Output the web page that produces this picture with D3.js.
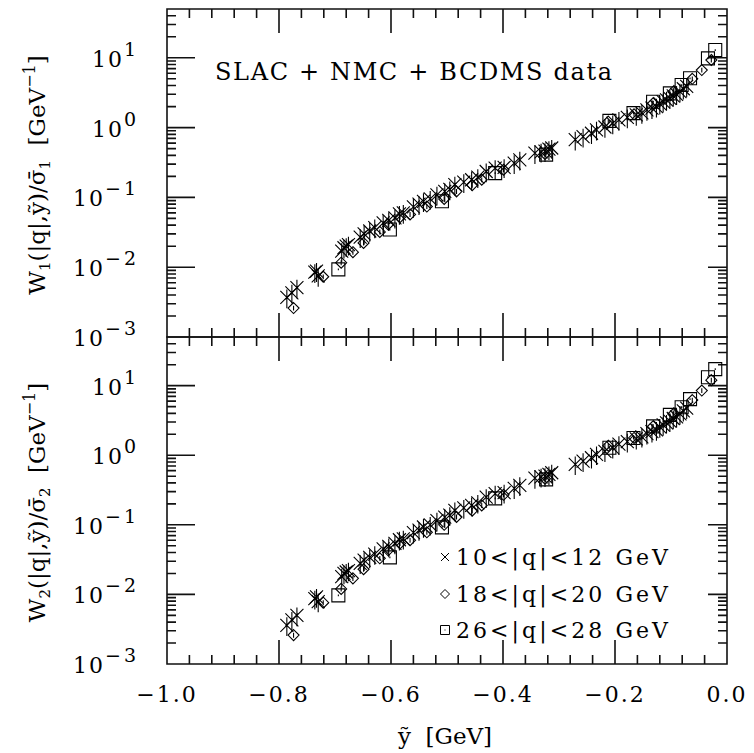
<!DOCTYPE html>
<html><head><meta charset="utf-8">
<script src="https://cdn.jsdelivr.net/npm/d3@7"></script>
<style>
body{margin:0;background:#fff}
text{font-family:"DejaVu Serif",serif;fill:#000}
</style>
</head><body>
<svg id="chart" width="754" height="753"></svg>
<script>
// ---------------- data (ỹ [GeV], value) ----------------
// Top panel: W1/σ̄1
const w1_q10 = [
 [-0.786,0.0037],[-0.777,0.0043],[-0.768,0.0051],
 [-0.736,0.0085],[-0.733,0.0088],[-0.730,0.0075],
 [-0.688,0.017],[-0.684,0.019],[-0.680,0.020],[-0.676,0.021],
 [-0.655,0.027],[-0.648,0.030],[-0.638,0.033],[-0.629,0.037],[-0.614,0.043],[-0.604,0.047],[-0.593,0.051],[-0.585,0.058],[-0.578,0.060],
 [-0.560,0.073],[-0.550,0.080],[-0.542,0.088],[-0.530,0.095],[-0.518,0.109],[-0.504,0.122],[-0.495,0.130],[-0.486,0.152],[-0.470,0.165],[-0.456,0.179],[-0.445,0.195],[-0.430,0.235],[-0.414,0.263],[-0.398,0.270],[-0.380,0.310],[-0.370,0.346],
 [-0.343,0.43],[-0.332,0.45],[-0.325,0.46],[-0.318,0.49],[-0.313,0.51],
 [-0.271,0.67],[-0.257,0.74],[-0.242,0.83],[-0.233,0.93],[-0.218,1.02],[-0.204,1.15],[-0.193,1.29],[-0.178,1.40],[-0.162,1.52],[-0.152,1.62],[-0.143,1.79],[-0.134,1.90],[-0.126,2.0],[-0.120,2.2],[-0.114,2.35],[-0.108,2.5],[-0.102,2.63],[-0.096,2.85],[-0.090,3.0],[-0.084,3.27],[-0.078,3.6],[-0.072,3.9]
];
const w1_q18 = [
 [-0.774,0.0026],[-0.721,0.0073],[-0.689,0.0116],[-0.668,0.0164],[-0.649,0.0223],[-0.620,0.032],[-0.605,0.041],[-0.584,0.052],[-0.566,0.057],[-0.536,0.074],[-0.505,0.095],[-0.483,0.122],[-0.455,0.150],[-0.438,0.179],[-0.399,0.249],[-0.325,0.42],[-0.212,1.22],[-0.166,1.55],[-0.132,2.23],[-0.096,3.27],[-0.062,5.0],[-0.045,6.67],[-0.028,9.3]
];
const w1_q26 = [
 [-0.694,0.0093],[-0.602,0.0346],[-0.509,0.088],[-0.414,0.223],[-0.323,0.41],[-0.210,1.25],[-0.167,1.61],[-0.132,2.35],[-0.102,3.09],[-0.081,4.07],[-0.066,5.08],[-0.034,9.8],[-0.021,12.9]
];
// Bottom panel: W2/σ̄2
const w2_q10 = [
 [-0.786,0.0036],[-0.777,0.0043],[-0.768,0.0050],
 [-0.736,0.0087],[-0.733,0.0092],[-0.730,0.0079],
 [-0.688,0.018],[-0.684,0.020],[-0.680,0.021],[-0.676,0.022],
 [-0.655,0.028],[-0.648,0.031],[-0.638,0.034],[-0.629,0.038],[-0.614,0.045],[-0.604,0.049],[-0.593,0.054],[-0.585,0.061],[-0.578,0.063],
 [-0.560,0.077],[-0.550,0.084],[-0.542,0.093],[-0.530,0.100],[-0.518,0.115],[-0.504,0.129],[-0.495,0.138],[-0.486,0.161],[-0.470,0.175],[-0.456,0.190],[-0.445,0.207],[-0.430,0.25],[-0.414,0.28],[-0.398,0.29],[-0.380,0.335],[-0.370,0.37],
 [-0.343,0.47],[-0.332,0.49],[-0.325,0.50],[-0.318,0.53],[-0.313,0.56],
 [-0.271,0.74],[-0.257,0.82],[-0.242,0.92],[-0.233,1.03],[-0.218,1.14],[-0.204,1.28],[-0.193,1.44],[-0.178,1.57],[-0.162,1.72],[-0.152,1.84],[-0.143,2.04],[-0.134,2.18],[-0.126,2.31],[-0.120,2.55],[-0.114,2.73],[-0.108,2.92],[-0.102,3.09],[-0.096,3.37],[-0.090,3.57],[-0.084,3.92],[-0.078,4.35],[-0.072,4.74]
];
const w2_q18 = [
 [-0.774,0.0026],[-0.721,0.0076],[-0.689,0.012],[-0.668,0.017],[-0.649,0.023],[-0.620,0.033],[-0.605,0.043],[-0.584,0.054],[-0.566,0.060],[-0.536,0.078],[-0.505,0.10],[-0.483,0.13],[-0.455,0.16],[-0.438,0.19],[-0.399,0.27],[-0.325,0.46],[-0.212,1.37],[-0.166,1.77],[-0.132,2.6],[-0.096,3.9],[-0.062,6.2],[-0.045,8.5],[-0.028,12.0]
];
const w2_q26 = [
 [-0.694,0.0097],[-0.602,0.034],[-0.509,0.092],[-0.414,0.24],[-0.323,0.45],[-0.210,1.28],[-0.167,1.77],[-0.132,2.6],[-0.102,3.8],[-0.081,4.9],[-0.066,6.4],[-0.034,13.2],[-0.021,17.3]
];
const seriesLabels = ["10<|q|<12 GeV","18<|q|<20 GeV","26<|q|<28 GeV"];
const seriesRelErr = [0.3, 0.08, 0.03];
const xTickValues = [-1.0,-0.8,-0.6,-0.4,-0.2,0.0];
const yDecades = [-3,-2,-1,0,1];
const panelText = "SLAC + NMC + BCDMS data";

// ---------------- layout ----------------
const L=167, R=727;
const panels = [
  {top:9,   bottom:337, data:[w1_q10,w1_q18,w1_q26], idx:"1"},
  {top:337, bottom:664, data:[w2_q10,w2_q18,w2_q26], idx:"2"}
];
const svg = d3.select("#chart");
const x = d3.scaleLinear().domain([-1,0]).range([L,R]);
const xMinor = [];
for (let i = 0; i <= 25; i++) {
  const v = Math.round((-1 + i*0.04)*100)/100;
  if (!xTickValues.some(t => Math.abs(t-v) < 1e-6)) xMinor.push(v);
}

function marker(type, s){
  if(type===0) return `M${-s},${-s}L${s},${s}M${-s},${s}L${s},${-s}`;
  if(type===1) return `M0,${-s}L${s},0L0,${s}L${-s},0Z`;
  return `M${-s},${-s}H${s}V${s}H${-s}Z`;
}
const markerSize = [6.5, 5.5, 6.5];
const f = v => v.toFixed(2);

panels.forEach((p,pi) => {
  const y = d3.scaleLog().domain([1e-3,50]).range([p.bottom,p.top]);
  const g = svg.append("g");
  const majY = yDecades.map(k => Math.pow(10,k));
  const minY = [];
  yDecades.forEach(k => { for (let m = 2; m <= 9; m++) { const v = m*Math.pow(10,k); if (v <= 50) minY.push(v); } });

  // frame + all ticks in one path
  let d = `M${L},${p.top}H${R}V${p.bottom}H${L}Z`;
  majY.forEach(v => { const yy = f(y(v)); d += `M${L},${yy}H${L+28}M${R},${yy}H${R-19}`; });
  minY.forEach(v => { const yy = f(y(v)); d += `M${L},${yy}H${L+9}M${R},${yy}H${R-9}`; });
  xTickValues.forEach(v => { const xx = f(x(v)); d += `M${xx},${p.bottom}V${p.bottom-24}M${xx},${p.top}V${p.top+24}`; });
  xMinor.forEach(v => { const xx = f(x(v)); d += `M${xx},${p.bottom}V${p.bottom-9}M${xx},${p.top}V${p.top+9}`; });
  g.append("path").attr("d", d).attr("fill","none").attr("stroke","#111").attr("stroke-width",1.6);

  // y labels
  yDecades.forEach(k => {
    const t = g.append("text").attr("x",139).attr("y",y(Math.pow(10,k))+9).attr("text-anchor","end");
    t.append("tspan").attr("font-size",22).attr("letter-spacing",2).text("10");
    t.append("tspan").attr("font-size",19).attr("dy",-11).attr("letter-spacing",3).text(k<0?"\u2212"+(-k):String(k));
  });

  // y title
  const cy = (p.top+p.bottom)/2 + 2;
  const tt = g.append("text").attr("transform",`translate(45,${cy}) rotate(-90)`).attr("text-anchor","middle").attr("font-size",23);
  tt.append("tspan").text("W");
  tt.append("tspan").attr("font-size",15).attr("dy",5).text(p.idx);
  tt.append("tspan").attr("dy",-5).text("(|q|,\u1EF9)/\u03C3\u0304");
  tt.append("tspan").attr("font-size",15).attr("dy",5).text(p.idx);
  tt.append("tspan").attr("dy",-5).text("\u00A0\u00A0[GeV");
  tt.append("tspan").attr("font-size",16).attr("dy",-10).text("\u2212" + "1");
  tt.append("tspan").attr("dy",10).text("]");

  // data: marker + vertical error bar in one path
  p.data.forEach((ser, si) => {
    const e = seriesRelErr[si];
    g.append("g").attr("fill","none").attr("stroke","#000").attr("stroke-width",1.1)
      .selectAll("path").data(ser).join("path")
      .attr("transform",dd=>`translate(${f(x(dd[0]))},${f(y(dd[1]))})`)
      .attr("d",dd => marker(si,markerSize[si]) + `M0,${f(y(dd[1]*(1+e))-y(dd[1]))}V${f(y(dd[1]*(1-e))-y(dd[1]))}`);
  });

  if(pi===0){
    g.append("text").attr("x",215).attr("y",80).attr("font-size",24)
      .attr("textLength",397).attr("lengthAdjust","spacing").text(panelText);
  } else {
    const legY = [557,594,630];
    const legSize = [4,4.5,4.5];
    seriesLabels.forEach((lab,i) => {
      g.append("path").attr("transform",`translate(445,${legY[i]})`)
        .attr("d",marker(i,legSize[i]) + (i===2 ? "M-0.5,0H0.5" : ""))
        .attr("fill","none").attr("stroke","#000").attr("stroke-width",1);
      g.append("text").attr("x",456).attr("y",legY[i]+8).attr("font-size",22)
        .attr("textLength",212).attr("lengthAdjust","spacing").text(lab);
    });
  }
});

// x tick labels
svg.append("g").selectAll("text").data(xTickValues).join("text")
  .attr("x",d=>x(d)).attr("y",702).attr("text-anchor","middle").attr("font-size",22).attr("letter-spacing",2)
  .text(d => d===0 ? "0.0" : "\u2212"+Math.abs(d).toFixed(1));
// x title
svg.append("text").attr("x",445).attr("y",744).attr("text-anchor","middle").attr("font-size",23)
  .text("\u1EF9\u00A0\u00A0[GeV]");
</script>
</body></html>
